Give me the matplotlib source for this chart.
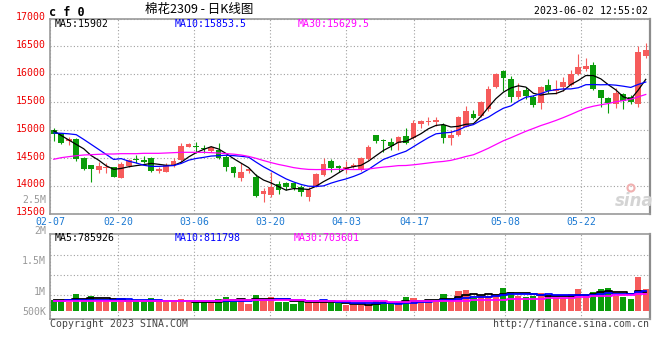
import numpy as np
import pandas as pd
import matplotlib
matplotlib.use("Agg")
import matplotlib.pyplot as plt
import matplotlib.transforms as mtransforms
from matplotlib.patches import Circle

# ---------------- data ----------------
opens = [14990, 14940, 14800, 14840, 14490, 14370, 14285, 14315, 14330, 14140,
         14345, 14470, 14460, 14500, 14265, 14250, 14370, 14460, 14700, 14720,
         14670, 14630, 14640, 14520, 14340, 14130, 14255, 14160, 13850, 13835,
         14030, 14045, 14040, 13970, 13800, 13980, 14190, 14440, 14355, 14295,
         14330, 14280, 14480, 14910, 14820, 14790, 14770, 14890, 14850, 15105,
         15150, 15150, 15090, 14850, 14910, 15060, 15290, 15255, 15370, 15765,
         16060, 15910, 15600, 15715, 15595, 15490, 15805, 15700, 15775, 15805,
         16005, 16095, 16165, 15715, 15570, 15465, 15645, 15595, 15465, 16330]
highs = [15040, 14950, 14870, 14850, 14510, 14375, 14430, 14400, 14335, 14430,
         14470, 14550, 14540, 14520, 14340, 14400, 14500, 14760, 14770, 14790,
         14730, 14705, 14760, 14550, 14360, 14400, 14310, 14210, 13955, 14250,
         14090, 14060, 14050, 14010, 13970, 14230, 14490, 14475, 14375, 14440,
         14400, 14520, 14730, 14915, 14835, 14850, 14890, 15030, 15180, 15180,
         15230, 15230, 15120, 15000, 15250, 15430, 15360, 15525, 15790, 16020,
         16075, 15970, 15840, 15765, 15630, 15790, 15910, 15895, 15955, 16075,
         16365, 16285, 16225, 15720, 15600, 15745, 15670, 15625, 16505, 16555]
lows = [14810, 14740, 14725, 14440, 14280, 14070, 14235, 14235, 14150, 14130,
        14330, 14410, 14400, 14250, 14220, 14240, 14330, 14430, 14695, 14590,
        14580, 14600, 14475, 14270, 14150, 14090, 14230, 13800, 13710, 13800,
        13850, 13930, 13930, 13815, 13730, 13970, 14180, 14250, 14250, 14220,
        14310, 14270, 14460, 14760, 14610, 14640, 14640, 14745, 14830, 15040,
        15090, 15070, 14770, 14730, 14890, 15045, 15190, 15235, 15345, 15750,
        15700, 15505, 15550, 15550, 15405, 15375, 15655, 15645, 15705, 15790,
        15985, 16065, 15715, 15405, 15310, 15400, 15375, 15470, 15415, 16285]
closes = [14920, 14770, 14840, 14475, 14305, 14305, 14355, 14340, 14160, 14385,
          14455, 14455, 14430, 14270, 14305, 14365, 14445, 14710, 14750, 14690,
          14655, 14690, 14505, 14340, 14235, 14250, 14290, 13815, 13910, 13980,
          13920, 13970, 13955, 13890, 13920, 14210, 14385, 14310, 14315, 14330,
          14365, 14500, 14690, 14800, 14805, 14720, 14880, 14770, 15130, 15160,
          15165, 15178, 14850, 14910, 15225, 15345, 15220, 15505, 15730, 16005,
          15925, 15600, 15700, 15615, 15450, 15765, 15705, 15730, 15865, 16005,
          16135, 16145, 15730, 15570, 15480, 15670, 15520, 15510, 16400, 16440]
volumes_k = [437, 437, 369, 683, 478, 601, 437, 437, 369, 478,
             369, 342, 342, 519, 369, 369, 342, 478, 342, 342,
             342, 342, 478, 574, 478, 437, 273, 642, 478, 547,
             369, 369, 273, 342, 437, 437, 369, 301, 301, 232,
             232, 232, 232, 396, 396, 301, 273, 547, 506, 369,
             424, 369, 683, 478, 806, 847, 533, 615, 615, 683,
             929, 765, 615, 560, 615, 711, 615, 506, 533, 683,
             888, 601, 779, 888, 943, 601, 574, 478, 1394, 888]

# moving-average values before a full window exists
ma5_head = [14985, 14900, 14820, 14740]
ma10_head = [14945, 14940, 14930, 14915, 14830, 14740, 14650, 14560, 14470]
ma30_head = [14473, 14502, 14520, 14537, 14550, 14556, 14562, 14568, 14568, 14574,
             14574, 14574, 14580, 14580, 14580, 14586, 14592, 14598, 14598, 14598,
             14598, 14592, 14585, 14575, 14565, 14550, 14525, 14490, 14450]
vol_ma5_head = [430, 430, 420, 460]
vol_ma10_head = [415, 415, 420, 425, 430, 435, 440, 440, 445]
vol_ma30_head = [395, 395, 395, 398, 400, 400, 402, 404, 405, 405,
                 406, 406, 407, 408, 409, 410, 410, 411, 412, 413,
                 414, 415, 417, 419, 421, 423, 425, 428, 432]

date_labels = ['02-07', '02-20', '03-06', '03-20', '04-03', '04-17', '05-08', '05-22']
date_index = [0, 9, 19, 29, 39, 48, 60, 70]
price_ticks = [13500, 14000, 14500, 15000, 15500, 16000, 16500, 17000]
vol_tick_labels = ['1.5M', '1M', '500K']
ma_texts = ['MA5:15902', 'MA10:15853.5', 'MA30:15629.5']
vol_ma_texts = ['MA5:785926', 'MA10:811798', 'MA30:703601']

# ---------------- styling ----------------
W, H = 660, 360
RED = '#f65b5b'
GREEN = '#0a9c0a'
GRID = '#a0a0a0'
FRAME = '#999999'
MONO = 'DejaVu Sans Mono'
FS = 7.1
MA_COLORS = ['#000000', '#0000ff', '#ff00ff']


def rect(x0, y0, x1, y1):
    return [x0 / W, 1 - y1 / H, (x1 - x0) / W, (y1 - y0) / H]


def fpos(x, y):
    return x / W, 1 - y / H


def moving(values, n, head):
    s = pd.Series(values, dtype=float).rolling(n).mean().to_numpy()
    s[:n - 1] = head
    return s


n = len(closes)
xc = np.arange(n) + 0.5
o = np.array(opens, float)
c = np.array(closes, float)
hi = np.array(highs, float)
lo = np.array(lows, float)
vol = np.array(volumes_k, float)
up = c >= o
colors = np.where(up, RED, GREEN)
grid_x = np.array(date_index) * n / (n - 1)

fig = plt.figure(figsize=(6.6, 3.6), dpi=100)
fig.patch.set_facecolor('white')

ax = fig.add_axes(rect(50, 18.5, 649.5, 213.5))
axv = fig.add_axes(rect(50, 234.3, 649.5, 319))

for a in (ax, axv):
    a.set_xlim(0, n)
    for s in a.spines.values():
        s.set_color(FRAME)
        s.set_linewidth(1.2)
    a.spines['right'].set_color('#8c8c8c')
    a.spines['right'].set_linewidth(1.6)
    a.set_xticks(grid_x)
    a.tick_params(length=0)
    a.grid(axis='x', color=GRID, linestyle=(0, (1, 2)), linewidth=0.8)
    a.set_axisbelow(True)

# ---- price panel ----
ax.set_ylim(13500, 17000)
ax.set_yticks(price_ticks)
ax.set_yticklabels([str(t) for t in price_ticks], color='#ee0000',
                   fontfamily=MONO, fontsize=FS)
ax.tick_params(axis='y', pad=3)
lift = mtransforms.ScaledTranslation(0, 2.2 / 100, fig.dpi_scale_trans)
for lab in ax.get_yticklabels():
    lab.set_transform(lab.get_transform() + lift)
ax.grid(axis='y', color=GRID, linestyle=(0, (1, 2)), linewidth=0.8)
ax.set_xticklabels(date_labels, color='#1a78d2', fontfamily=MONO, fontsize=FS)
ax.tick_params(axis='x', pad=2.2)

ax.vlines(xc, lo, hi, colors=colors, linewidth=0.8, zorder=3)
body = np.maximum(np.abs(c - o), 15)
ax.bar(xc, body, bottom=np.minimum(o, c), width=0.76, color=colors,
       linewidth=0, zorder=4)

ma5 = moving(closes, 5, ma5_head)
ma10 = moving(closes, 10, ma10_head)
ma30 = moving(closes, 30, ma30_head)
for m, col in zip((ma5, ma10, ma30), MA_COLORS):
    ax.plot(xc, m, color=col, linewidth=0.9, zorder=5)

# ---- volume panel ----
axv.set_ylim(-340, 3132)
for gy in (644, 1464, 2284):
    axv.axhline(gy, color=GRID, linestyle=(0, (1, 2)), linewidth=0.8, zorder=0)
axv.set_yticks([2079, 820, 0])
axv.set_yticklabels(vol_tick_labels, color='#999999', fontfamily=MONO, fontsize=FS)
axv.tick_params(axis='y', pad=3)
axv.set_xticklabels([])
axv.bar(xc, vol, width=0.83, color=colors, linewidth=0, zorder=3)

vma5 = moving(volumes_k, 5, vol_ma5_head)
vma10 = moving(volumes_k, 10, vol_ma10_head)
vma30 = moving(volumes_k, 30, vol_ma30_head)
for m, col in zip((vma5, vma10, vma30), MA_COLORS):
    axv.plot(xc, m, color=col, linewidth=1.3, drawstyle='steps-mid', zorder=5)

# ---- texts ----
fig.text(*fpos(49, 12), 'c f 0', fontfamily=MONO, fontweight='bold',
         fontsize=8.5, ha='left', va='center', color='black')
fig.text(*fpos(199, 10), '棉花2309 - 日K线图',
         fontfamily=['Noto Sans CJK SC', 'DejaVu Sans'], fontsize=9,
         ha='center', va='center', color='black')
fig.text(*fpos(648, 11.5), '2023-06-02 12:55:02', fontfamily=MONO,
         fontsize=FS, ha='right', va='center', color='black')

for xpx, txt, col in zip((55, 175, 297.5), ma_texts, MA_COLORS):
    fig.text(*fpos(xpx, 24), txt, fontfamily=MONO, fontsize=FS,
             ha='left', va='center', color=col)
for xpx, txt, col in zip((55, 175, 294), vol_ma_texts, MA_COLORS):
    fig.text(*fpos(xpx, 238.3), txt, fontfamily=MONO, fontsize=FS,
             ha='left', va='center', color=col)

fig.text(*fpos(46.5, 200.3), '2.5M', fontfamily=MONO, fontsize=FS,
         ha='right', va='center', color='#999999')
fig.text(*fpos(46.5, 231), '2M', fontfamily=MONO, fontsize=FS,
         ha='right', va='center', color='#999999')

fig.text(*fpos(50, 324), 'Copyright 2023 SINA.COM', fontfamily=MONO,
         fontsize=FS, ha='left', va='center', color='#444444')
fig.text(*fpos(649, 324), 'http://finance.sina.com.cn', fontfamily=MONO,
         fontsize=FS, ha='right', va='center', color='#444444')

# watermark
fig.text(*fpos(634, 201), 'sina', fontfamily='DejaVu Sans', fontsize=12,
         fontstyle='italic', fontweight='bold', ha='center', va='center',
         color='#d4d4d4', zorder=1)
pix = mtransforms.Affine2D().scale(1 / W, 1 / H) + fig.transFigure
fig.patches.append(Circle((631, H - 188), 3.5, transform=pix, facecolor='none',
                          edgecolor='#f0b0b0', linewidth=1.5, zorder=1))

fig.savefig('out.png', dpi=100, facecolor='white')
